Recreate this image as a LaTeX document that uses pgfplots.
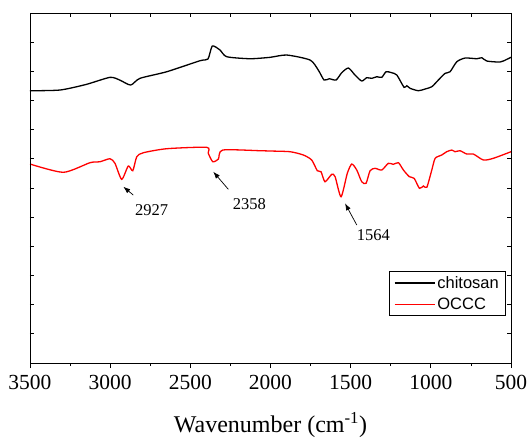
\documentclass[border=0pt]{standalone}
\usepackage{pgfplots}
\pgfplotsset{compat=1.18}
\usepackage{fontspec}
\setmainfont{Liberation Serif}
\setsansfont{Liberation Sans}
\usetikzlibrary{arrows.meta}

\pgfplotstableread{
x y
3500 9.335
3313 9.359
3150 9.55
3001 9.794
2940 9.70
2872 9.530
2814 9.760
2647 9.986
2440 10.363
2390 10.422
2363 10.867
2315 10.730
2273 10.501
2128 10.432
2003 10.480
1899 10.559
1753 10.387
1702 10.045
1666 9.702
1633 9.746
1591 9.702
1556 9.952
1514 10.113
1473 9.873
1431 9.668
1400 9.781
1368 9.760
1337 9.815
1306 9.794
1279 9.986
1244 9.952
1212 9.873
1167 9.452
1150 9.507
1129 9.417
1078 9.335
1036 9.393
994 9.472
953 9.702
911 9.931
880 9.986
838 10.329
786 10.456
713 10.432
682 10.466
651 10.353
568 10.319
526 10.411
500 10.480
}\chitosan

\pgfplotstableread{
x y
3500 6.822
3292 6.538
3126 6.867
3063 6.901
3001 7.004
2970 6.846
2928 6.298
2887 6.754
2859 6.592
2834 7.072
2793 7.209
2647 7.347
2398 7.395
2388 7.189
2360 6.901
2325 6.993
2298 7.302
2065 7.278
2003 7.268
1878 7.244
1795 7.131
1743 6.959
1708 6.592
1685 6.558
1660 6.215
1618 6.469
1597 6.387
1560 5.701
1521 6.503
1493 6.822
1462 6.616
1431 6.215
1404 6.161
1379 6.592
1348 6.675
1306 6.616
1265 6.846
1234 6.812
1202 6.867
1171 6.616
1134 6.387
1104 6.332
1071 5.989
1046 6.068
1025 6.023
994 6.616
973 7.018
932 7.131
901 7.244
869 7.302
849 7.244
818 7.278
776 7.165
735 7.165
672 6.959
610 7.018
500 7.244
}\occc

\begin{document}
\begin{tikzpicture}
\useasboundingbox (-30pt,-76pt) rectangle (499pt,363pt);
\begin{axis}[
  at={(0,0)}, anchor=south west,
  scale only axis, width=481pt, height=350pt,
  xmin=500, xmax=3500, x dir=reverse, ymin=0, ymax=12,
  xtick={500,1000,...,3500}, minor x tick num=1,
  xtick pos=bottom, tick align=outside,
  ytick=\empty,
  major tick length=5pt, minor tick length=3pt,
  /pgf/number format/assume math mode=true,
  /pgf/number format/1000 sep={},
  xticklabel style={font=\fontsize{21.5}{25}\selectfont, yshift=-4pt},
  xlabel={Wavenumber (cm\textsuperscript{-1})},
  xlabel style={font=\fontsize{24}{28}\selectfont, yshift=-15pt},
  axis line style={line width=0.9pt},
  every tick/.style={line width=0.8pt, black},
  legend style={at={(0.99,0.263)}, anchor=north east,
    font=\sffamily\fontsize{16.5}{19}\selectfont, draw=black, line width=0.7pt,
    inner xsep=5pt, inner ysep=3pt, row sep=4pt, cells={anchor=west}},
  legend image code/.code={\draw[#1] (0pt,0pt) -- (40pt,0pt);},
]
\addplot[black, line width=1.3pt, smooth, tension=0.4] table[x=x,y=y]{\chitosan};
\addlegendentry{chitosan}
\addplot[red, line width=1.3pt, smooth, tension=0.4] table[x=x,y=y]{\occc};
\addlegendentry{OCCC}

\draw[-{Latex[length=7pt,width=5pt]}, line width=0.7pt] (axis cs:2856,5.759) -- (axis cs:2918,6.044);
\draw[-{Latex[length=7pt,width=5pt]}, line width=0.7pt] (axis cs:2263,5.955) -- (axis cs:2357,6.558);
\draw[-{Latex[length=7pt,width=5pt]}, line width=0.7pt] (axis cs:1462,4.731) -- (axis cs:1535,5.475);
\node[font=\fontsize{16.5}{19}\selectfont] at (axis cs:2741,5.245) {2927};
\node[font=\fontsize{16.5}{19}\selectfont] at (axis cs:2132,5.451) {2358};
\node[font=\fontsize{16.5}{19}\selectfont] at (axis cs:1358,4.388) {1564};
\end{axis}
\begin{axis}[
  at={(0,0)}, anchor=south west,
  scale only axis, width=481pt, height=350pt,
  xmin=500, xmax=3500, x dir=reverse, ymin=0, ymax=12,
  xtick={500,1000,...,3500}, minor x tick num=1,
  xtick pos=top, xticklabels=\empty,
  ytick={1,2,...,11}, yticklabels=\empty, ytick pos=both,
  tick align=inside,
  major tick length=4pt, minor tick length=4pt,
  axis line style={line width=0.9pt},
  every tick/.style={line width=0.8pt, black},
]
\end{axis}
\end{tikzpicture}
\end{document}
